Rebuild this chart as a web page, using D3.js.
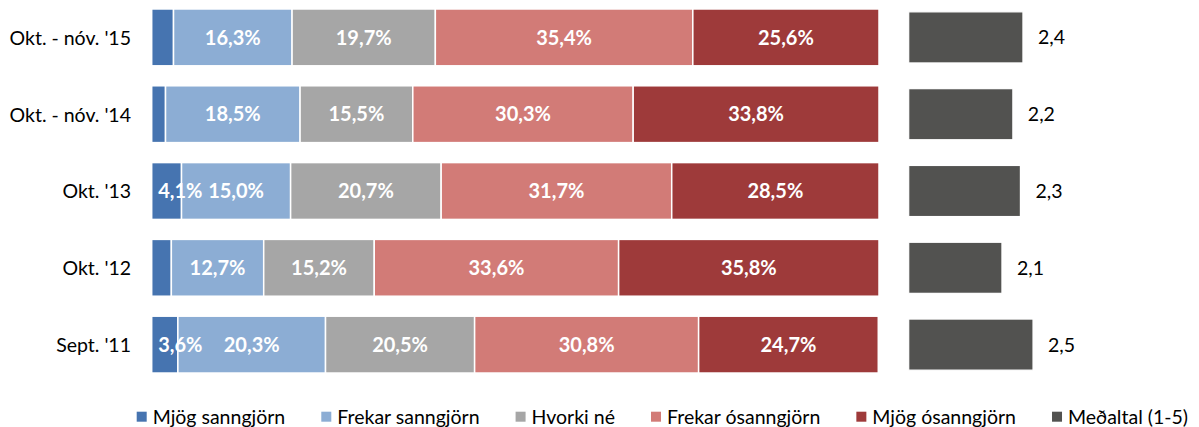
<!DOCTYPE html>
<html>
<head>
<meta charset="utf-8">
<script src="https://cdn.jsdelivr.net/npm/d3@7"></script>
<style>
  html, body { margin: 0; padding: 0; background: #fff; }
  svg { display: block; }
  text { font-family: Lato, "Open Sans", sans-serif; }
</style>
</head>
<body>
<svg id="chart" width="1199" height="427"></svg>
<script>
const categories = ["Okt. - nóv. '15", "Okt. - nóv. '14", "Okt. '13", "Okt. '12", "Sept. '11"];
const seriesNames = ["Mjög sanngjörn", "Frekar sanngjörn", "Hvorki né", "Frekar ósanngjörn", "Mjög ósanngjörn"];
const mjogSanngjorn   = [3.0, 1.9, 4.1, 2.7, 3.6];
const frekarSanngjorn = [16.3, 18.5, 15.0, 12.7, 20.3];
const hvorkiNe        = [19.7, 15.5, 20.7, 15.2, 20.5];
const frekarOsanngjorn = [35.4, 30.3, 31.7, 33.6, 30.8];
const mjogOsanngjorn  = [25.6, 33.8, 28.5, 35.8, 24.7];
const meanName = "Meðaltal (1-5)";
const medaltal = [2.36, 2.24, 2.33, 2.11, 2.48];

const colors = ["#4674b0", "#8cadd4", "#a6a6a6", "#d27b77", "#9e3a3a"];
const meanColor = "#525250";

const svg = d3.select("#chart");
const seriesArrays = [mjogSanngjorn, frekarSanngjorn, hvorkiNe, frekarOsanngjorn, mjogOsanngjorn];
const rows = categories.map((c, i) => {
  const o = { cat: c };
  seriesNames.forEach((s, j) => o[s] = seriesArrays[j][i]);
  return o;
});

const stack = d3.stack().keys(seriesNames);
const stacked = stack(rows);

const x = d3.scaleLinear().domain([0, 100]).range([151.7, 879]);
const y = d3.scaleBand().domain(categories).range([-1, 383]).paddingInner(0.26).paddingOuter(0.13);
const yMean = d3.scaleBand().domain(categories).range([-1, 383]).paddingInner(0.335).paddingOuter(0.1675);
const xMean = d3.scaleLinear().domain([1, 5]).range([908.7, 1244.7]);

const fmt = v => d3.format(".1f")(v).replace(".", ",");

// stacked bars
const g = svg.append("g");
stacked.forEach((layer, j) => {
  g.selectAll(null).data(layer).enter().append("rect")
    .attr("x", d => x(d[0]))
    .attr("y", d => y(d.data.cat))
    .attr("width", d => x(d[1]) - x(d[0]))
    .attr("height", y.bandwidth())
    .attr("fill", colors[j])
    .attr("stroke", "#fff")
    .attr("stroke-width", 1.5);
});

// data labels
stacked.forEach((layer, j) => {
  layer.forEach(d => {
    const v = d[1] - d[0];
    if (v < 3.5) return;
    const t = g.append("text")
      .attr("y", y(d.data.cat) + y.bandwidth() / 2)
      .attr("dy", "0.36em")
      .attr("text-anchor", "middle")
      .attr("fill", "#fff")
      .attr("font-weight", "bold")
      .attr("font-size", 20)
      .text(fmt(v) + "%");
    const w = t.node().getComputedTextLength();
    const x0 = x(d[0]), x1 = x(d[1]);
    let cx = (x0 + x1) / 2;
    if (w > x1 - x0 - 4) cx = x0 + 6.5 + w / 2;
    t.attr("x", cx);
  });
});

// category labels
svg.append("g").selectAll("text").data(categories).enter().append("text")
  .attr("x", 131)
  .attr("y", d => y(d) + y.bandwidth() / 2)
  .attr("dy", "0.38em")
  .attr("text-anchor", "end")
  .attr("font-size", 19.5)
  .attr("fill", "#000")
  .text(d => d);

// mean bars
const gm = svg.append("g");
gm.selectAll("rect").data(medaltal).enter().append("rect")
  .attr("x", xMean(1))
  .attr("y", (d, i) => yMean(categories[i]))
  .attr("width", d => xMean(d) - xMean(1))
  .attr("height", yMean.bandwidth())
  .attr("fill", meanColor)
  .attr("stroke", "#fff")
  .attr("stroke-width", 1.2);
gm.selectAll("text").data(medaltal).enter().append("text")
  .attr("x", d => xMean(d) + 15)
  .attr("y", (d, i) => yMean(categories[i]) + yMean.bandwidth() / 2)
  .attr("dy", "0.36em")
  .attr("font-size", 19.5)
  .attr("fill", "#000")
  .text(d => fmt(d));

// legend
const legendItems = seriesNames.map((s, j) => ({ name: s, color: colors[j] }))
  .concat([{ name: meanName, color: meanColor }]);
const lg = svg.append("g");
const items = legendItems.map(it => {
  const gi = lg.append("g");
  gi.append("rect").attr("width", 10).attr("height", 10).attr("y", 411.7).attr("fill", it.color);
  const t = gi.append("text").attr("x", 16).attr("y", 416.7).attr("dy", "0.36em")
    .attr("font-size", 19.5).attr("fill", "#000").text(it.name);
  return { g: gi, w: 16 + t.node().getComputedTextLength() };
});
const left = 136.7, right = 1188;
const totalW = d3.sum(items, d => d.w);
const gap = (right - left - totalW) / (items.length - 1);
let cur = left;
items.forEach(it => {
  it.g.attr("transform", `translate(${cur},0)`);
  cur += it.w + gap;
});
</script>
</body>
</html>
